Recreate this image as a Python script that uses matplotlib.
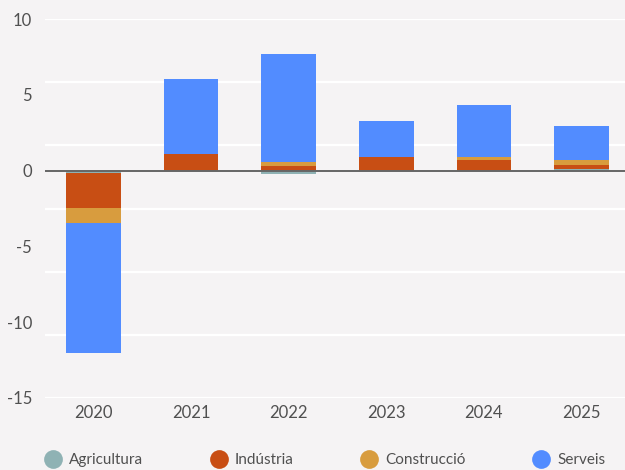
import numpy as np
import matplotlib
matplotlib.use("Agg")
import matplotlib.pyplot as plt
from matplotlib.lines import Line2D

# Contribució al creixement per sectors (punts percentuals)
anys = ["2020", "2021", "2022", "2023", "2024", "2025"]
agricultura = [-0.15, 0.0, -0.25, 0.0, 0.0, 0.13]
industria = [-2.3, 1.1, 0.31, 0.92, 0.73, 0.26]
construccio = [-1.0, 0.0, 0.26, 0.0, 0.2, 0.33]
serveis = [-8.55, 4.95, 7.15, 2.38, 3.43, 2.25]

sectors = ["Agricultura", "Indústria", "Construcció", "Serveis"]
colors = ["#8fb2b4", "#c84e14", "#d89c3e", "#528cff"]

FONS = "#f5f3f4"
TEXT = "#505050"
plt.rcParams["font.family"] = ["Lato", "DejaVu Sans"]
plt.rcParams["axes.unicode_minus"] = False

fig = plt.figure(figsize=(6.25, 4.7), dpi=100, facecolor=FONS)
ax = fig.add_axes([44.7 / 625, 1 - 398 / 470, (630.3 - 44.7) / 625, (398 - 19) / 470])
ax.set_facecolor(FONS)

x = np.arange(len(anys))
amplada = 0.56

# apilat separat per a valors positius i negatius
base_pos = np.zeros(len(anys))
base_neg = np.zeros(len(anys))
for nom, valors, color in zip(sectors, [agricultura, industria, construccio, serveis], colors):
    v = np.array(valors)
    base = np.where(v >= 0, base_pos, base_neg)
    ax.bar(x, v, amplada, bottom=base, color=color, zorder=3, linewidth=0)
    base_pos = base_pos + np.where(v > 0, v, 0)
    base_neg = base_neg + np.where(v < 0, v, 0)

ax.set_xlim(-0.5, 5.5)
ax.set_ylim(-15, 10)

# línies de la graella (no coincideixen amb les etiquetes)
for g in np.linspace(-15, 10, 7):
    ax.axhline(g, color="white", lw=1.6, zorder=1)
ax.axhline(0, color="#666666", lw=1.4, zorder=4)

ax.set_yticks([-15, -10, -5, 0, 5, 10])
ax.set_xticks(x)
ax.set_xticklabels(anys)
ax.tick_params(axis="both", length=0, labelsize=12, colors=TEXT)
ax.tick_params(axis="y", pad=9)
ax.tick_params(axis="x", pad=5)
for s in ax.spines.values():
    s.set_visible(False)

handles = [Line2D([], [], marker="o", ls="", markersize=13.5, color=c, markeredgewidth=0)
           for c in colors]
fig.legend(handles, sectors, loc="center left", bbox_to_anchor=(45.4 / 625, 1 - 460 / 470),
           ncol=4, frameon=False, fontsize=11, handlelength=1.0, handletextpad=0.55,
           columnspacing=4.45, borderpad=0, borderaxespad=0, labelcolor=TEXT)

fig.savefig("out.png", dpi=100, facecolor=FONS)
